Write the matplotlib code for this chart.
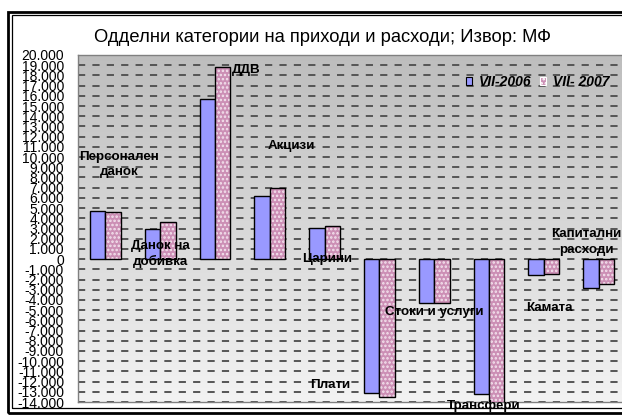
import numpy as np
import matplotlib
matplotlib.use("Agg")
import matplotlib.pyplot as plt
from matplotlib.patches import Rectangle

plt.rcParams['font.family'] = ['Liberation Sans', 'DejaVu Sans']
plt.rcParams['hatch.linewidth'] = 1.2

# data (millions of denars)
categories = ["Персонален\nданок", "Данок на\nдобивка", "ДДВ", "Акцизи", "Царини",
              "Плати", "Стоки и услуги", "Трансфери", "Камата", "Капитални\nрасходи"]
vii_2006 = [4760, 2960, 15670, 6140, 3020, -13070, -4330, -13200, -1580, -2790]
vii_2007 = [4630, 3670, 18790, 7000, 3280, -13530, -4300, -14300, -1480, -2460]
series_names = ["VII-2006", "VII- 2007"]
yticks = list(range(-14000, 20001, 1000))

# where each category label sits (data coords), as in the original
label_pos = [(0.25, 9260), (1.0, 490), (2.56, 18500), (3.39, 11100), (4.04, 0),
             (4.1, -12300), (6.0, -5200), (6.9, -14350), (8.11, -4830), (8.77, 1670)]

fig = plt.figure(figsize=(6.22, 4.15), dpi=100)
ax = fig.add_axes([78 / 622, 1 - 402 / 415, 548 / 622, 347 / 415])

# gradient background, darker at the top
grad = np.linspace(0, 1, 256).reshape(-1, 1)
cmap = matplotlib.colors.LinearSegmentedColormap.from_list("g", ["#bdbdbd", "#f3f3f3"])
ax.imshow(grad, extent=(-0.5, 9.5, -14000, 20000), origin='upper', aspect='auto',
          cmap=cmap, zorder=0)

x = np.arange(len(categories))
w = 0.28
ax.bar(x - w / 2, vii_2006, w, color='#9999ff', edgecolor='black', lw=1, zorder=3)
ax.bar(x + w / 2, vii_2007, w, color='#cc8fb5', edgecolor='#f4e4ee', hatch='....', lw=0,
       zorder=3)
ax.bar(x + w / 2, vii_2007, w, color='none', edgecolor='black', lw=1, zorder=4)
blue_handle = Rectangle((0, 0), 1, 1, facecolor='#9999ff', edgecolor='black', lw=0.8)
pink_handle = Rectangle((0, 0), 1, 1, facecolor='#cc8fb5', edgecolor='white', hatch='....',
                        lw=0.8)

for yv in yticks:
    ax.axhline(yv, color='#555555', lw=1.4, ls=(0, (3.7, 3.7)), zorder=1)

for (lx, ly), name in zip(label_pos, categories):
    ax.text(lx, ly, name, ha='center', va='center', fontsize=9.6, fontweight='bold',
            linespacing=1.35, zorder=5, clip_on=False)

ax.set_xlim(-0.5, 9.5)
ax.set_ylim(-14000, 20000)
ax.set_xticks([])
ax.set_yticks(yticks)
ax.set_yticklabels([f"{v // 1000}.000" if v != 0 else "0" for v in yticks], fontsize=10)
ax.tick_params(axis='y', length=0, pad=10)
for s in ax.spines.values():
    s.set_color('#808080')
    s.set_linewidth(1)

leg = ax.legend([blue_handle, pink_handle], series_names, loc='center left',
                bbox_to_anchor=(0.697, 0.922), ncol=2, frameon=False,
                handlelength=0.45, handleheight=0.45, handletextpad=0.5,
                columnspacing=0.6, borderaxespad=0,
                prop={'weight': 'bold', 'style': 'italic', 'size': 10})

fig.text(0.518, 1 - 38 / 415, "Одделни категории на приходи и расходи; Извор: МФ",
         ha='center', va='center', fontsize=13.2)

# double frame round the chart
fig.patches.append(Rectangle((8 / 622, 1 - 413 / 415), 640 / 622, 401 / 415,
                             transform=fig.transFigure, fill=False, lw=2, ec='black'))
fig.patches.append(Rectangle((11.5 / 622, 1 - 408 / 415), 640 / 622, 393 / 415,
                             transform=fig.transFigure, fill=False, lw=0.9, ec='black'))

fig.savefig("out.png", dpi=100)
